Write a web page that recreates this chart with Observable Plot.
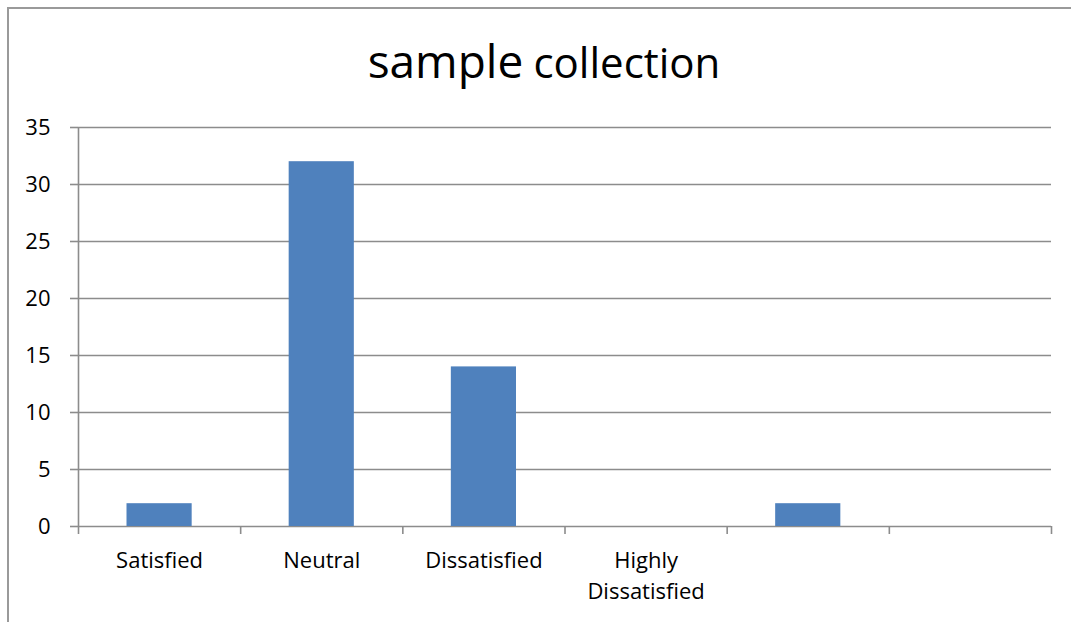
<!DOCTYPE html>
<html>
<head>
<meta charset="utf-8">
<script src="https://cdn.jsdelivr.net/npm/d3@7"></script>
<script src="https://cdn.jsdelivr.net/npm/@observablehq/plot@0.6"></script>
<style>
  html, body { margin: 0; padding: 0; background: #fff; }
  #wrap { position: relative; width: 1071px; height: 622px; overflow: hidden; font-family: "Open Sans", Lato, sans-serif; }
  #frame { position: absolute; left: 7px; top: 7px; right: -5px; bottom: -5px; border-top: 2px solid #9a9a9a; border-left: 2px solid #9a9a9a; }
  #title { position: absolute; left: 0; width: 1088px; top: 37px; text-align: center; color: #000; line-height: 1; white-space: nowrap; }
  #title .a { font-size: 46px; margin-right: 6px; }
  #title .b { font-size: 42px; }
  #chart { position: absolute; left: 0; top: 0; }
</style>
</head>
<body>
<div id="wrap">
  <div id="frame"></div>
  <div id="title"><span class="a">sample</span> <span class="b">collection</span></div>
  <div id="chart"></div>
</div>
<script>
const categories = ["Satisfied", "Neutral", "Dissatisfied", "Highly\nDissatisfied", "", ""];
const values = [2, 32, 14, 0, 2, 0];
const yTicks = [0, 5, 10, 15, 20, 25, 30, 35];
const xBoundaries = [0, 1, 2, 3, 4, 5, 6];

const data = categories.map((label, i) => ({ i, label, value: values[i] }));
const grid = "#8c8c8c";

const chart = Plot.plot({
  width: 1071,
  height: 622,
  marginLeft: 78,
  marginRight: 20,
  marginTop: 127,
  marginBottom: 96,
  style: { fontFamily: "'Open Sans', Lato, sans-serif", fontSize: "22px", background: "transparent", color: "#000" },
  x: { type: "linear", domain: [0, 6] },
  y: { domain: [0, 35] },
  marks: [
    Plot.ruleY(yTicks, { stroke: grid, strokeWidth: 1.6 }),
    Plot.ruleX([0], { y1: 0, y2: 35, stroke: grid, strokeWidth: 1.6 }),
    Plot.rectY(data, { x: "i", interval: 1, y: "value", fill: "#4F81BD", insetLeft: 48.5, insetRight: 48.5 }),
    Plot.axisY({ ticks: yTicks, tickSize: 8, tickPadding: 20, stroke: grid, strokeWidth: 1.6, fontSize: 22, label: null }),
    Plot.axisX({ ticks: xBoundaries, tickSize: 8, tickFormat: () => "", stroke: grid, strokeWidth: 1.6, label: null }),
    Plot.text(data, { x: d => d.i + 0.5, y: 0, text: "label", dy: 19, lineAnchor: "top", lineHeight: 1.42, fontSize: 22, fill: "#000" })
  ]
});
document.getElementById("chart").appendChild(chart);
</script>
</body>
</html>
